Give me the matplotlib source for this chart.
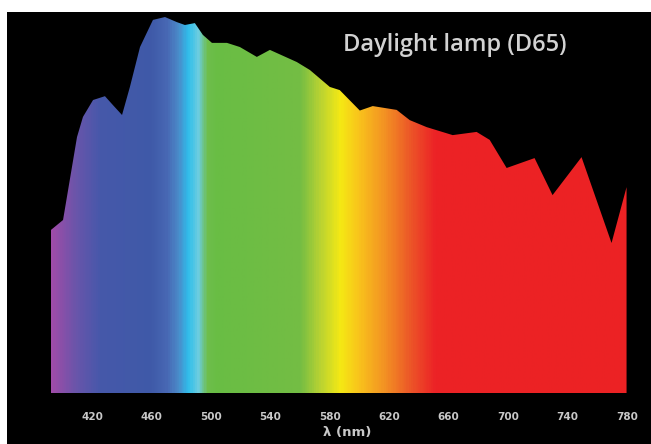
import numpy as np
import matplotlib.pyplot as plt
from matplotlib.colors import LinearSegmentedColormap
from matplotlib.patches import Polygon, Rectangle

# spectrum outline (nm, relative power)
wavelength = [392.4, 400.5, 409.9, 413.9, 420.7, 428.7, 434.1, 440.2, 445.5, 452.3,
              461.0, 469.1, 477.1, 482.5, 489.2, 494.6, 500.7, 510.8, 519.5, 530.9,
              539.7, 557.8, 566.6, 580.0, 586.7, 600.2, 608.9, 625.0, 633.8, 645.2,
              662.7, 678.8, 687.6, 699.0, 717.8, 729.9, 749.4, 769.6, 779.7]
power = [51.1, 54.2, 80.2, 86.5, 91.8, 93.0, 90.2, 87.1, 95.9, 108.4,
         116.9, 117.8, 116.2, 115.3, 115.9, 112.2, 109.7, 109.7, 108.4, 105.3,
         107.5, 103.7, 101.2, 95.9, 94.9, 88.5, 89.9, 88.7, 85.5, 83.3,
         80.8, 81.8, 79.3, 70.5, 73.6, 62.0, 73.9, 47.0, 64.5]

# colour of the fill along the wavelength axis
color_nm = [392, 408, 425, 459, 470, 478, 484, 491, 497, 503, 560, 573, 587, 600, 617, 634, 651, 780]
color_hex = ['#a04ca8', '#6a55aa', '#4658aa', '#3f5aa8', '#4868b4', '#4a8cca', '#2ebeec',
             '#6ccde0', '#6fbe4c', '#69bd45', '#74bd44', '#b7d233', '#f5e914', '#f9c21c',
             '#f39223', '#ec5728', '#ec2326', '#ec2224']

ticks = [420, 460, 500, 540, 580, 620, 660, 700, 740, 780]

fig = plt.figure(figsize=(6.51, 4.44), dpi=100, facecolor='white')
# black panel below the white strip
fig.patches.append(Rectangle((7 / 651, 0), 1, 432 / 444, transform=fig.transFigure,
                             facecolor='black', edgecolor='none', zorder=-10))

lo, hi = wavelength[0], wavelength[-1]
ax = fig.add_axes([51 / 651, 51 / 444, 576 / 651, 383 / 444])
ax.patch.set_visible(False)
ax.set_xlim(lo, hi)
ax.set_ylim(0, 120)

cmap = LinearSegmentedColormap.from_list(
    'spec', [((c - 392) / (780 - 392), h) for c, h in zip(color_nm, color_hex)])
grad = np.linspace((lo - 392) / (780 - 392), (hi - 392) / (780 - 392), 600).reshape(1, -1)
im = ax.imshow(grad, cmap=cmap, vmin=0, vmax=1, extent=[lo, hi, 0, 120], aspect='auto',
               interpolation='bilinear')
verts = [(lo, 0)] + list(zip(wavelength, power)) + [(hi, 0)]
poly = Polygon(verts, closed=True, facecolor='none', edgecolor='none')
ax.add_patch(poly)
im.set_clip_path(poly)

for s in ax.spines.values():
    s.set_visible(False)
ax.set_xticks(ticks)
ax.set_xticklabels([str(t) for t in ticks])
ax.set_yticks([])
ax.tick_params(axis='x', length=0, pad=14, labelsize=7.5, labelcolor='#c8c8c8')
for lab in ax.get_xticklabels():
    lab.set_fontweight('bold')

fig.text(347 / 651, 12 / 444, 'λ (nm)', fontsize=9.5, color='#c8c8c8', ha='center',
         va='center', fontweight='bold')
fig.text(455 / 651, (444 - 45) / 444, 'Daylight lamp (D65)', fontsize=17, color='#d2d2d2',
         ha='center', va='center', family='Open Sans', fontweight='semibold')

fig.savefig('out.png', dpi=100, facecolor=fig.get_facecolor())
